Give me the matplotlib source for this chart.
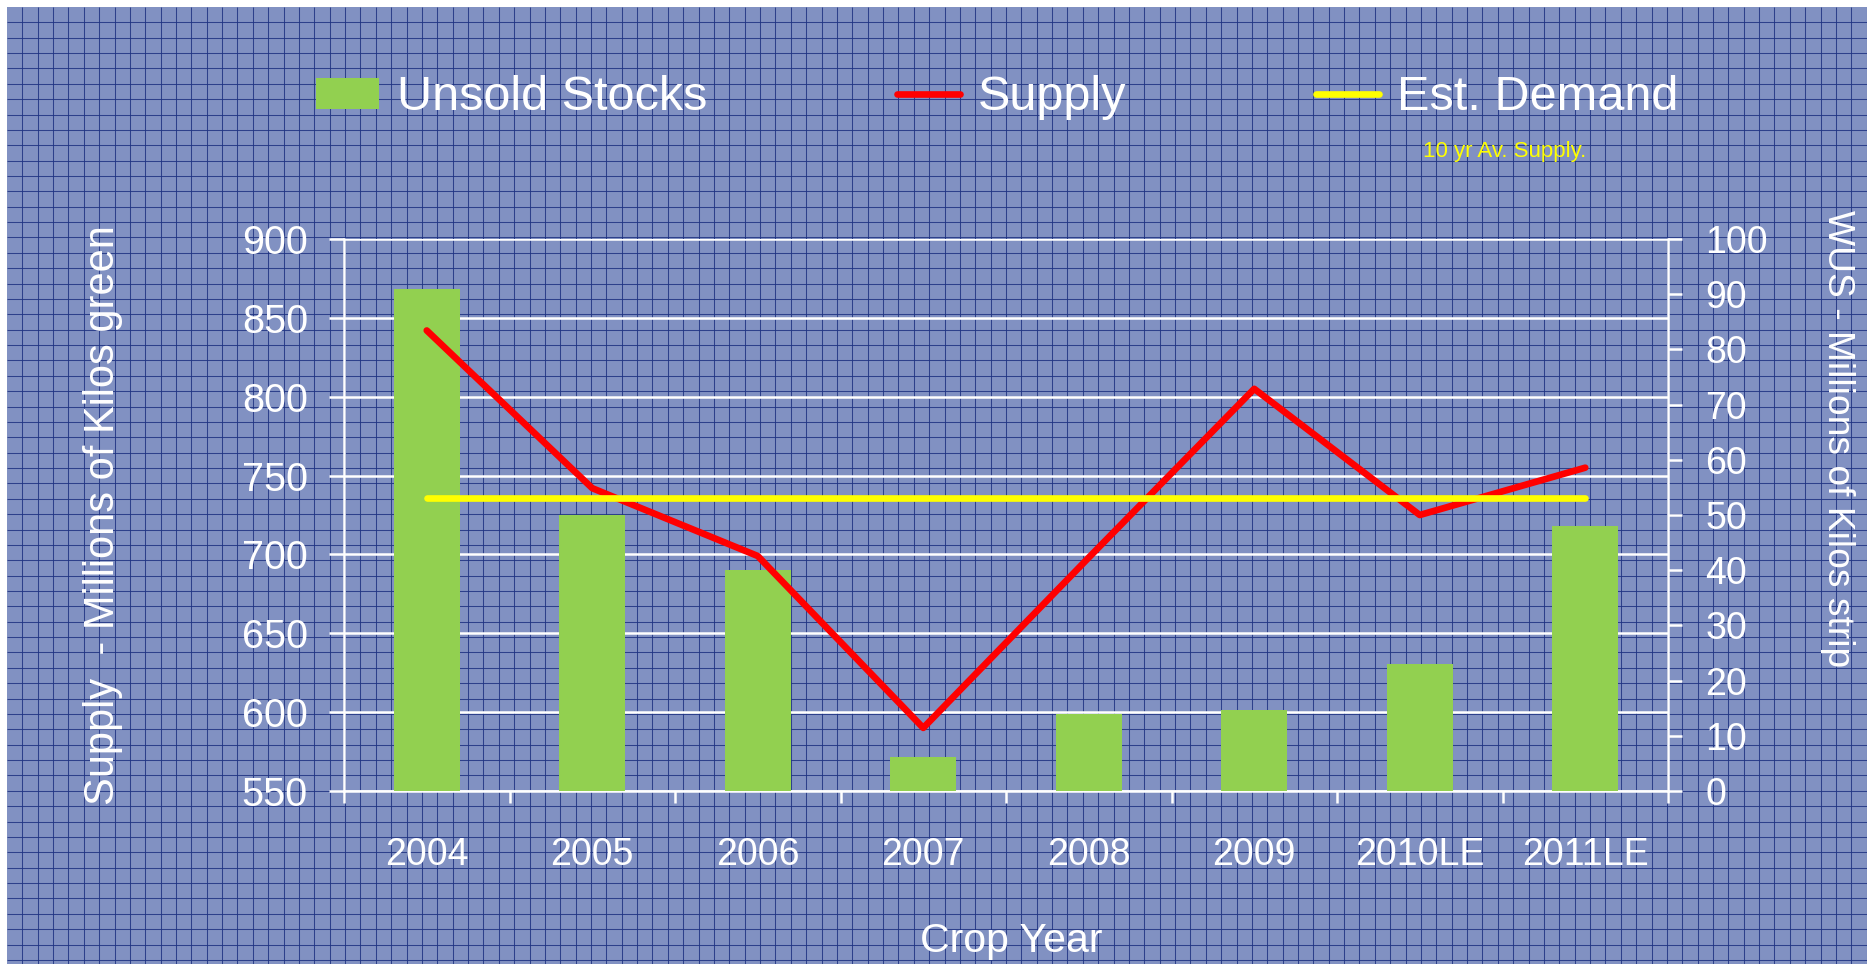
import numpy as np
import matplotlib.pyplot as plt
from matplotlib.ticker import FixedLocator, NullFormatter

plt.rcParams['font.family'] = ['Liberation Sans', 'DejaVu Sans']

# chart data
years = ['2004', '2005', '2006', '2007', '2008', '2009', '2010LE', '2011LE']
unsold_stocks = [91, 50, 40, 6.2, 14, 14.7, 23, 48]      # right axis
supply = [842, 742, 699, 590, 698, 805, 725, 755]        # left axis
est_demand = [736, 736, 736, 736, 736, 736, 736, 736]    # left axis

W, H = 1867, 964
fig = plt.figure(figsize=(W / 100, H / 100), dpi=100, facecolor='white')

# graph-paper background
bg = fig.add_axes([7 / W, 0, 1 - 7 / W, 1 - 7 / H])
bg.set_facecolor('#8191c2')
bg.set_xlim(7, W)
bg.set_ylim(H, 7)
bg.vlines(np.arange(22.3, W, 15.37), 7, H, color='#1e3282', lw=0.75, alpha=0.85)
bg.hlines(np.arange(22.3, H, 15.37), 7, W, color='#1e3282', lw=0.75, alpha=0.85)
bg.set_xticks([])
bg.set_yticks([])
for s in bg.spines.values():
    s.set_visible(False)

rect = [344 / W, 1 - 791 / H, 1324 / W, 552 / H]
x = np.arange(len(years))

# left axis: grid + ticks
ax = fig.add_axes(rect)
ax.patch.set_visible(False)
ax.set_ylim(550, 900)
ax.set_yticks(np.arange(550, 901, 50))
ax.set_xlim(-0.5, len(years) - 0.5)
ax.grid(axis='y', color='white', lw=1.8)
ax.set_axisbelow(True)
for s in ['top', 'right']:
    ax.spines[s].set_visible(False)
for s in ['left', 'bottom']:
    ax.spines[s].set_color('white')
    ax.spines[s].set_linewidth(1.8)
ax.tick_params(axis='y', colors='white', labelsize=28.5, length=11, width=1.8, pad=15)
ax.xaxis.set_major_locator(FixedLocator(np.arange(-0.5, len(years), 1)))
ax.xaxis.set_major_formatter(NullFormatter())
ax.xaxis.set_minor_locator(FixedLocator(x))
ax.set_xticklabels(years, minor=True)
ax.tick_params(axis='x', which='major', colors='white', length=8.6, width=1.8)
ax.tick_params(axis='x', which='minor', colors='white', length=0, labelsize=27, pad=33)
ax.set_ylabel('Supply  - Millions of Kilos green', color='white', fontsize=30)
ax.yaxis.set_label_coords(-0.167, 0.5)
ax.set_xlabel('Crop Year', color='white', fontsize=29.5)
ax.xaxis.set_label_coords(0.5038, -0.2373)

# right axis: bars
ax2 = ax.twinx()
ax2.patch.set_visible(False)
ax2.set_ylim(0, 100)
ax2.set_yticks(np.arange(0, 101, 10))
bars = ax2.bar(x, unsold_stocks, width=0.4, color='#92d050', label='Unsold Stocks', zorder=2)
for s in ['top', 'left', 'bottom']:
    ax2.spines[s].set_visible(False)
ax2.spines['right'].set_color('white')
ax2.spines['right'].set_linewidth(1.8)
ax2.tick_params(axis='y', colors='white', labelsize=27, length=10, width=1.8, pad=17)
ax2.set_ylabel('WUS - Millions of Kilos strip', color='white', fontsize=26.8, rotation=270, va='center')
ax2.yaxis.set_label_coords(1.1277, 0.6386)

# lines on top, sharing the left scale
ax3 = ax.twinx()
ax3.patch.set_visible(False)
ax3.set_ylim(550, 900)
ax3.axis('off')
l1, = ax3.plot(x, supply, color='#ff0000', lw=4.8, solid_capstyle='round',
               solid_joinstyle='round', label='Supply')
l2, = ax3.plot(x, est_demand, color='#ffff00', lw=4.8, solid_capstyle='round',
               label='Est. Demand')

fig.legend(handles=[bars, l1, l2], loc='center', bbox_to_anchor=(997 / W, 1 - 98 / H),
           ncol=3, frameon=False, fontsize=35, labelcolor='white',
           handlelength=1.3, handleheight=0.62, handletextpad=0.37,
           columnspacing=3.9, borderpad=0)

fig.text(1423 / W, 1 - 152 / H, '10 yr Av. Supply.', color='#ffff00', fontsize=16,
         ha='left', va='center')

fig.savefig('out.png', dpi=100, facecolor=fig.get_facecolor())
